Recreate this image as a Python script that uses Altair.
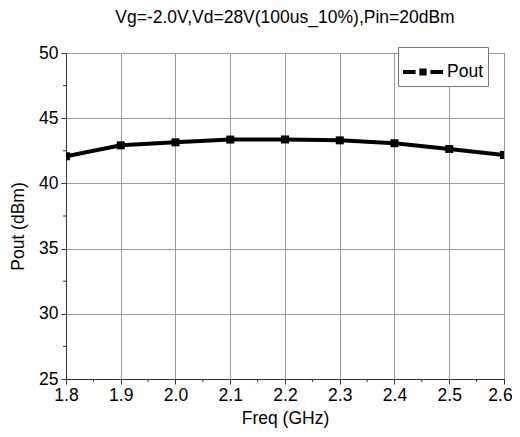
import altair as alt
import pandas as pd

freq = [1.8, 1.9, 2.0, 2.1, 2.2, 2.3, 2.4, 2.5, 2.6]
pout = [42.08, 42.92, 43.15, 43.36, 43.37, 43.30, 43.08, 42.64, 42.18]
series = ["Pout"] * len(freq)
x_ticks = [1.8, 1.9, 2.0, 2.1, 2.2, 2.3, 2.4, 2.5, 2.6]
x_minor = [1.85, 1.95, 2.05, 2.15, 2.25, 2.35, 2.45, 2.55]
y_ticks = [25, 30, 35, 40, 45, 50]
y_minor = [27.5, 32.5, 37.5, 42.5, 47.5]

df = pd.DataFrame({"freq": freq, "pout": pout, "series": series})

FONT = "Liberation Sans"
FS = 17.5
W, H = 438, 326

legend_path = ("M-1,-0.1H-0.37V0.1H-1Z "
               "M-0.18,-0.18H0.18V0.18H-0.18Z "
               "M0.37,-0.1H1V0.1H0.37Z")

xscale = alt.Scale(domain=[1.8, 2.6], nice=False, zero=False)
yscale = alt.Scale(domain=[25, 50], nice=False, zero=False)

base = alt.Chart(df)

line = base.mark_line(strokeWidth=4, clip=True).encode(
    x=alt.X("freq:Q", scale=xscale, title="Freq (GHz)",
            axis=alt.Axis(values=x_ticks, format=".1f", grid=True, tickSize=5,
                          labelFontSize=FS, titleFontSize=FS, titlePadding=6,
                          labelPadding=2, labelFlush=False, labelOverlap=False,
                          labelBound=False,
                          labelOffset=alt.expr("datum.value >= 2.59 ? -4 : 0"))),
    y=alt.Y("pout:Q", scale=yscale, title="Pout (dBm)",
            axis=alt.Axis(values=y_ticks, grid=True, tickSize=5,
                          labelFontSize=FS, titleFontSize=FS, titlePadding=11,
                          labelPadding=3, labelFlush=False, titleY=H / 2 + 10)),
    color=alt.Color("series:N", scale=alt.Scale(range=["black"]),
                    legend=alt.Legend(title=None, orient="none", legendX=332, legendY=-6,
                                      symbolType=legend_path, symbolSize=1600,
                                      symbolFillColor="black", symbolStrokeWidth=0,
                                      labelFontSize=FS, labelFont=FONT,
                                      strokeColor="#777", padding=5, fillColor="white",
                                      labelOffset=4)),
)

points = base.mark_point(shape="square", filled=True, size=64, opacity=1, clip=True).encode(
    x=alt.X("freq:Q", scale=xscale),
    y=alt.Y("pout:Q", scale=yscale),
    color=alt.Color("series:N", scale=alt.Scale(range=["black"]), legend=None),
)

minor_y = alt.Chart(pd.DataFrame({"v": y_minor})).mark_rule(color="#333", strokeWidth=1).encode(
    y=alt.Y("v:Q", scale=yscale),
    x=alt.value(-3), x2=alt.value(0),
)
minor_x = alt.Chart(pd.DataFrame({"v": x_minor})).mark_rule(color="#333", strokeWidth=1).encode(
    x=alt.X("v:Q", scale=xscale),
    y=alt.value(H), y2=alt.value(H + 3),
)

chart = alt.layer(line, points, minor_y, minor_x).properties(
    width=W, height=H,
    title=alt.Title("Vg=-2.0V,Vd=28V(100us_10%),Pin=20dBm", fontSize=FS,
                    fontWeight="normal", font=FONT, offset=18, anchor="middle"),
    autosize=alt.AutoSizeParams(type="none"),
    padding={"left": 58, "top": 45, "right": 8, "bottom": 50},
).configure(font=FONT).configure_view(
    stroke="#444", strokeWidth=1
).configure_axis(
    labelFont=FONT, titleFont=FONT, titleFontWeight="normal",
    domainColor="#333", tickColor="#333", gridColor="#999",
    labelColor="black", titleColor="black"
)

chart.save("out.html", embed_options={"renderer": "svg", "actions": False})
